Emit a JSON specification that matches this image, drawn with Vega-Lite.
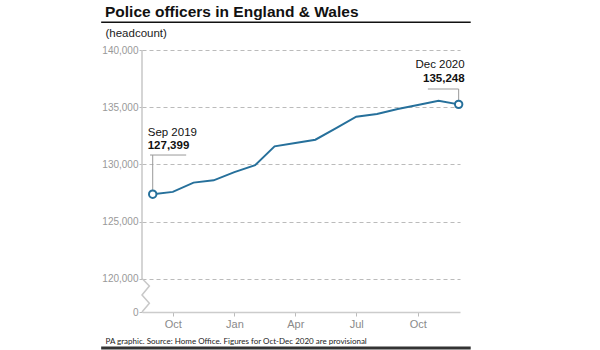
{
  "$schema": "https://vega.github.io/schema/vega-lite/v6.json",
  "autosize": {"type": "none"},
  "padding": {"left": 142, "top": 50, "right": 140, "bottom": 38},
  "width": 318,
  "height": 262,
  "background": "white",
  "config": {
    "view": {"stroke": null},
    "font": "Liberation Sans"
  },
  "title": {
    "text": "Police officers in England & Wales",
    "anchor": "start",
    "frame": "group",
    "dx": -37,
    "font": "Liberation Sans",
    "fontSize": 15.5,
    "fontWeight": "bold",
    "color": "#111111",
    "offset": 1
  },
  "data": {
    "values": [
      {"date": "2019/09/01", "value": 127399},
      {"date": "2019/10/01", "value": 127600},
      {"date": "2019/11/01", "value": 128410},
      {"date": "2019/12/01", "value": 128610},
      {"date": "2020/01/01", "value": 129330},
      {"date": "2020/02/01", "value": 129935},
      {"date": "2020/03/01", "value": 131580},
      {"date": "2020/04/01", "value": 131870},
      {"date": "2020/05/01", "value": 132160},
      {"date": "2020/06/01", "value": 133170},
      {"date": "2020/07/01", "value": 134175},
      {"date": "2020/08/01", "value": 134410},
      {"date": "2020/09/01", "value": 134840},
      {"date": "2020/10/01", "value": 135190},
      {"date": "2020/11/01", "value": 135560},
      {"date": "2020/12/01", "value": 135248}
    ],
    "format": {"parse": {"date": "date"}}
  },
  "encoding": {
    "x": {
      "field": "date",
      "type": "temporal",
      "scale": {"domain": [{"year": 2019, "month": 8, "date": 16}, {"year": 2020, "month": 12, "date": 3}]},
      "axis": {
        "values": [
          {"year": 2019, "month": 10, "date": 1},
          {"year": 2020, "month": 1, "date": 1},
          {"year": 2020, "month": 4, "date": 1},
          {"year": 2020, "month": 7, "date": 1},
          {"year": 2020, "month": 10, "date": 1}
        ],
        "format": "%b",
        "grid": false,
        "labelFontSize": 11,
        "labelColor": "#8a8a8a",
        "labelPadding": 2,
        "tickSize": 4,
        "tickColor": "#bbbbbb",
        "domainColor": "#cccccc",
        "domainWidth": 1.5,
        "title": "PA graphic. Source: Home Office. Figures for Oct-Dec 2020 are provisional",
        "titleX": -37,
        "titleY": 31.5,
        "titleAlign": "left",
        "titleBaseline": "alphabetic",
        "titleFont": "Lato",
        "titleFontSize": 8,
        "titleFontWeight": "normal",
        "titleColor": "#222222"
      }
    },
    "y": {
      "field": "value",
      "type": "quantitative",
      "scale": {"domain": [117100, 140000], "nice": false, "zero": false},
      "axis": {
        "values": [117100, 120000, 125000, 130000, 135000, 140000],
        "labelExpr": "datum.value < 118000 ? '0' : format(datum.value, ',')",
        "domain": false,
        "grid": true,
        "gridDash": [4, 3],
        "gridColor": "#bbbbbb",
        "gridOpacity": {"condition": {"test": "datum.value < 118000", "value": 0}, "value": 1},
        "labelFontSize": 10,
        "labelColor": "#999999",
        "labelPadding": 1,
        "tickSize": 3,
        "tickColor": "#bbbbbb",
        "title": "(headcount)",
        "titleAngle": 0,
        "titleX": -37,
        "titleY": -14,
        "titleAlign": "left",
        "titleBaseline": "alphabetic",
        "titleFontSize": 11.5,
        "titleFontWeight": "normal",
        "titleColor": "#222222"
      }
    }
  },
  "layer": [
    {
      "transform": [{"filter": "datum.value == 127399"}],
      "mark": {"type": "rule", "color": "#111111", "strokeWidth": 1.5},
      "encoding": {
        "x": {"datum": {"year": 2019, "month": 6, "date": 16}, "type": "temporal"},
        "x2": {"datum": {"year": 2020, "month": 12, "date": 19}},
        "y": {"datum": 142420, "type": "quantitative"}
      }
    },
    {
      "transform": [{"filter": "datum.value == 127399"}],
      "mark": {"type": "rule", "color": "#333333", "strokeWidth": 3},
      "encoding": {
        "x": {"datum": {"year": 2019, "month": 6, "date": 16}, "type": "temporal"},
        "x2": {"datum": {"year": 2020, "month": 12, "date": 19}},
        "y": {"datum": 113950, "type": "quantitative"}
      }
    },
    {
      "data": {
        "values": [
          {"k": 1, "t": "2019/08/16", "v": 140000},
          {"k": 2, "t": "2019/08/16", "v": 120030},
          {"k": 3, "t": "2019/08/27", "v": 119370},
          {"k": 4, "t": "2019/08/16", "v": 118590},
          {"k": 5, "t": "2019/08/27", "v": 117860},
          {"k": 6, "t": "2019/08/16", "v": 117100}
        ],
        "format": {"parse": {"t": "date"}}
      },
      "mark": {"type": "line", "color": "#c8c8c8", "strokeWidth": 1.5},
      "encoding": {
        "x": {"field": "t", "type": "temporal"},
        "y": {"field": "v", "type": "quantitative"},
        "order": {"field": "k"}
      }
    },
    {
      "mark": {"type": "line", "color": "#26709b", "strokeWidth": 2}
    },
    {
      "transform": [{"filter": "datum.value == 127399"}],
      "mark": {"type": "rule", "color": "#999999", "strokeWidth": 1},
      "encoding": {"y2": {"datum": 130820}}
    },
    {
      "transform": [{"filter": "datum.value == 127399"}],
      "mark": {"type": "rule", "color": "#999999", "strokeWidth": 1},
      "encoding": {
        "x": {"datum": {"year": 2019, "month": 8, "date": 28}, "type": "temporal"},
        "x2": {"datum": {"year": 2019, "month": 10, "date": 21}},
        "y": {"datum": 130820, "type": "quantitative"}
      }
    },
    {
      "transform": [{"filter": "datum.value == 135248"}],
      "mark": {"type": "rule", "color": "#999999", "strokeWidth": 1},
      "encoding": {"y2": {"datum": 136590}}
    },
    {
      "transform": [{"filter": "datum.value == 135248"}],
      "mark": {"type": "rule", "color": "#999999", "strokeWidth": 1},
      "encoding": {
        "x2": {"datum": {"year": 2020, "month": 10, "date": 16}},
        "y": {"datum": 136590, "type": "quantitative"}
      }
    },
    {
      "transform": [{"filter": "datum.value == 127399 || datum.value == 135248"}],
      "mark": {"type": "point", "shape": "circle", "filled": true, "fill": "white", "stroke": "#26709b", "strokeWidth": 2, "size": 55, "opacity": 1}
    },
    {
      "transform": [{"filter": "datum.value == 127399"}],
      "mark": {"type": "text", "align": "left", "baseline": "alphabetic", "dx": -5, "dy": -58, "fontSize": 11.5, "color": "#111111"},
      "encoding": {"text": {"field": "date", "type": "temporal", "format": "%b %Y"}}
    },
    {
      "transform": [{"filter": "datum.value == 127399"}],
      "mark": {"type": "text", "align": "left", "baseline": "alphabetic", "dx": -5, "dy": -45.5, "fontSize": 11.5, "fontWeight": "bold", "color": "#111111"},
      "encoding": {"text": {"field": "value", "type": "quantitative", "format": ","}}
    },
    {
      "transform": [{"filter": "datum.value == 135248"}],
      "mark": {"type": "text", "align": "right", "baseline": "alphabetic", "dx": 6, "dy": -36, "fontSize": 11.5, "color": "#111111"},
      "encoding": {"text": {"field": "date", "type": "temporal", "format": "%b %Y"}}
    },
    {
      "transform": [{"filter": "datum.value == 135248"}],
      "mark": {"type": "text", "align": "right", "baseline": "alphabetic", "dx": 6, "dy": -22.5, "fontSize": 11.5, "fontWeight": "bold", "color": "#111111"},
      "encoding": {"text": {"field": "value", "type": "quantitative", "format": ","}}
    }
  ]
}
